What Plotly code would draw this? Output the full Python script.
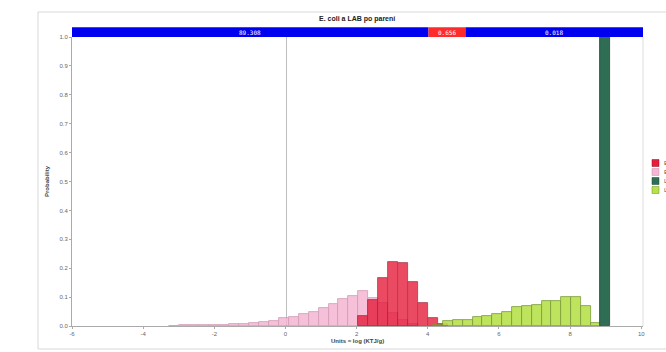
import numpy as np
import plotly.graph_objects as go

# Histogram probabilities (bin heights)
pink_start, pink_w = -3.27, 0.28
pink_vals = [0.001, 0.002, 0.002, 0.003, 0.004, 0.005, 0.006, 0.008, 0.011, 0.014,
             0.019, 0.028, 0.032, 0.040, 0.050, 0.062, 0.075, 0.093, 0.105, 0.121,
             0.096, 0.079, 0.044, 0.020, 0.008]

red_start, red_w = 2.05, 0.28
red_vals = [0.035, 0.090, 0.166, 0.223, 0.218, 0.152, 0.079, 0.027, 0.006]

lime_start, lime_w = 4.15, 0.277
lime_vals = [0.005, 0.016, 0.021, 0.022, 0.030, 0.036, 0.041, 0.050, 0.065, 0.068,
             0.072, 0.087, 0.087, 0.100, 0.100, 0.068, 0.012]

dark_x = [8.98]
dark_vals = [1.0]

series_names = ["E. coli po parení", "E. coli pred parením", "LAB pred parením", "LAB po parení"]
series_colors = ["#e51e3c", "#f4b6d2", "#2f6e55", "#b8e04c"]
series_edges = ["#8a1025", "#c98aa8", "#1d4636", "#6f8f25"]

# Delimiter band across the top
band_edges = [-6.0, 4.02, 5.06, 10.05]
band_labels = ["89.308", "0.656", "0.018"]
band_colors = ["#0000f0", "#ff2a2a", "#0000f0"]

x_ticks = [-6, -4, -2, 0, 2, 4, 6, 8, 10]
y_ticks = [0.0, 0.1, 0.2, 0.3, 0.4, 0.5, 0.6, 0.7, 0.8, 0.9, 1.0]


def centers(start, width, n):
    return start + width * (np.arange(n) + 0.5)


fig = go.Figure()

fig.add_bar(x=centers(pink_start, pink_w, len(pink_vals)), y=pink_vals, width=pink_w,
            marker=dict(color=series_colors[1], line=dict(color=series_edges[1], width=0.8)),
            opacity=0.85, name=series_names[1], showlegend=False)
fig.add_bar(x=centers(red_start, red_w, len(red_vals)), y=red_vals, width=red_w,
            marker=dict(color=series_colors[0], line=dict(color=series_edges[0], width=0.8)),
            opacity=0.8, name=series_names[0], showlegend=False)
fig.add_bar(x=centers(lime_start, lime_w, len(lime_vals)), y=lime_vals, width=lime_w,
            marker=dict(color=series_colors[3], line=dict(color=series_edges[3], width=0.8)),
            opacity=0.9, name=series_names[3], showlegend=False)
fig.add_bar(x=dark_x, y=dark_vals, width=0.3,
            marker=dict(color=series_colors[2], line=dict(color=series_edges[2], width=0.8)),
            name=series_names[2], showlegend=False)

shapes = []
annotations = []

# outer frame
shapes.append(dict(type="rect", xref="paper", yref="paper", x0=-0.0595, x1=1.06,
                   y0=-0.0796, y1=1.0865, line=dict(color="#d8d8d8", width=1),
                   fillcolor="rgba(0,0,0,0)", layer="below"))

# plot-area right border
shapes.append(dict(type="line", xref="paper", yref="paper", x0=1, x1=1, y0=0, y1=1,
                   line=dict(color="#dddddd", width=1)))

# vertical delimiter line
shapes.append(dict(type="line", xref="x", yref="paper", x0=0.03, x1=0.03, y0=0, y1=1,
                   line=dict(color="#bdbdbd", width=1), layer="below"))

# top band
for i, lab in enumerate(band_labels):
    x0, x1 = band_edges[i], band_edges[i + 1]
    shapes.append(dict(type="rect", xref="x", yref="paper", x0=x0, x1=x1,
                       y0=1.0, y1=1.034, fillcolor=band_colors[i], line=dict(width=0)))
    annotations.append(dict(x=(x0 + x1) / 2, y=1.017, xref="x", yref="paper", text=lab,
                            showarrow=False, yanchor="middle", xanchor="center",
                            font=dict(size=6, color="white", family="DejaVu Sans Mono")))

# legend swatches at the right edge
leg_order = [0, 1, 2, 3]
for k, idx in enumerate(leg_order):
    yc = (326 - (163 + 9 * k)) / 289
    shapes.append(dict(type="rect", xref="paper", yref="paper",
                       x0=(652 - 72) / 571, x1=(659 - 72) / 571,
                       y0=yc - 3.5 / 289, y1=yc + 3.5 / 289,
                       fillcolor=series_colors[idx], line=dict(color=series_edges[idx], width=0.5)))
    annotations.append(dict(x=(662 - 72) / 571, y=yc, xref="paper", yref="paper",
                            text=series_names[idx], showarrow=False, xanchor="left",
                            yanchor="middle",
                            font=dict(size=6, color="#555555", family="Liberation Sans")))

annotations.append(dict(x=0.5, y=(326 - 19) / 289, xref="paper", yref="paper",
                        text="<b>E. coli a LAB po parení</b>", showarrow=False,
                        yanchor="middle",
                        font=dict(size=7, color="#222222", family="Liberation Sans")))
annotations.append(dict(x=0.5, y=(326 - 341) / 289, xref="paper", yref="paper",
                        text="<b>Units = log (KTJ/g)</b>", showarrow=False,
                        yanchor="middle",
                        font=dict(size=6, color="#444444", family="Liberation Sans")))
annotations.append(dict(x=(47 - 72) / 571, y=(326 - 181) / 289, xref="paper", yref="paper",
                        text="<b>Probability</b>", showarrow=False, textangle=-90,
                        yanchor="middle", xanchor="center",
                        font=dict(size=6, color="#444444", family="Liberation Sans")))

fig.update_layout(
    width=666, height=352,
    margin=dict(l=72, r=23, t=37, b=26),
    paper_bgcolor="white", plot_bgcolor="white",
    barmode="overlay", bargap=0,
    shapes=shapes, annotations=annotations,
    font=dict(family="Liberation Sans", size=6, color="#666666"),
    xaxis=dict(range=[-6, 10.05], tickvals=x_ticks, ticktext=[str(v) for v in x_ticks],
               showgrid=False, zeroline=False, showline=True, linecolor="#aaaaaa",
               linewidth=1, ticks="outside", ticklen=2, tickcolor="#aaaaaa",
               tickfont=dict(size=6, color="#666666")),
    yaxis=dict(range=[0, 1.0], tickvals=y_ticks, ticktext=[f"{v:.1f}" for v in y_ticks],
               showgrid=False, zeroline=False, showline=True, linecolor="#aaaaaa",
               linewidth=1, ticks="outside", ticklen=2, tickcolor="#aaaaaa",
               tickfont=dict(size=6, color="#666666")),
)

fig.write_html("out.html")
